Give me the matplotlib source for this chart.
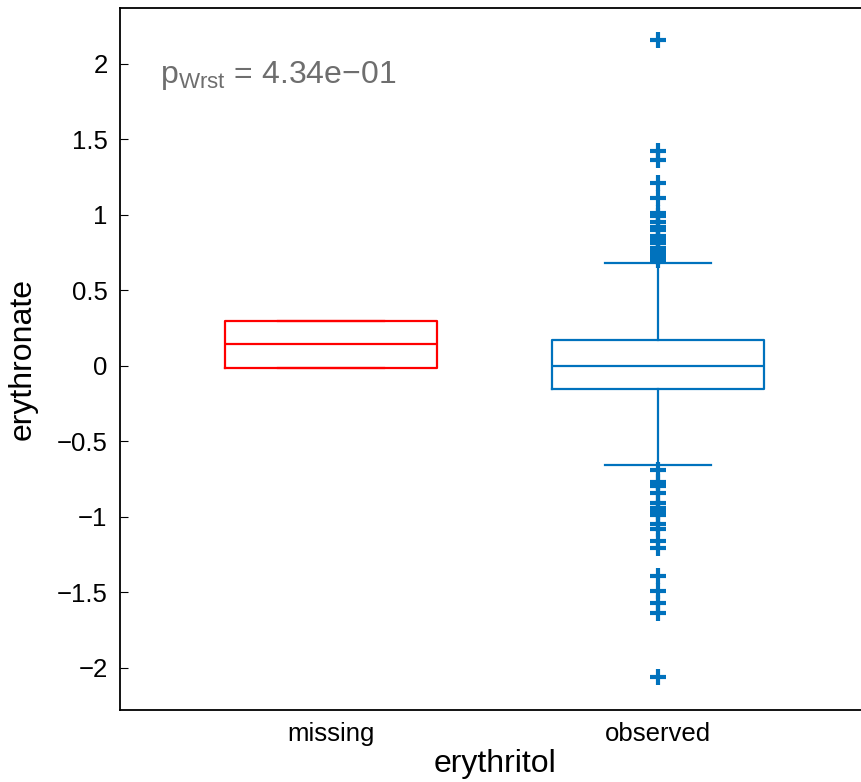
import matplotlib
matplotlib.use("Agg")
import matplotlib.pyplot as plt

plt.rcParams['font.family'] = ['Liberation Sans', 'DejaVu Sans']
plt.rcParams['mathtext.fontset'] = 'custom'
plt.rcParams['mathtext.rm'] = 'Liberation Sans'

categories = ['missing', 'observed']
colors = ['#ff0000', '#0072bd']

# box statistics
q1 = [-0.013, -0.152]
med = [0.146, 0.0]
q3 = [0.298, 0.172]
whislo = [-0.013, -0.656]
whishi = [0.298, 0.682]

outliers_missing = []
outliers_observed = [2.16, 1.42, 1.36, 1.21, 1.11, 1.01, 0.99, 0.95, 0.92, 0.9,
                     0.86, 0.84, 0.81, 0.78, 0.77, 0.74, 0.72, 0.70,
                     -0.69, -0.77, -0.795, -0.84, -0.91, -0.94, -0.97, -0.99,
                     -1.05, -1.08, -1.16, -1.21,
                     -1.39, -1.49, -1.57, -1.64, -2.06]
outliers = [outliers_missing, outliers_observed]

p_text = '4.34e\u221201'

fig = plt.figure(figsize=(8.61, 7.82), dpi=100)
ax = fig.add_axes([0.1394, 0.0921, 0.87, 0.8977])

for i in range(2):
    st = [{'q1': q1[i], 'med': med[i], 'q3': q3[i], 'whislo': whislo[i],
           'whishi': whishi[i], 'fliers': outliers[i], 'label': categories[i]}]
    c = colors[i]
    ax.bxp(st, positions=[i + 1], widths=0.648, showfliers=True,
           boxprops=dict(color=c, lw=1.6),
           medianprops=dict(color=c, lw=1.6),
           whiskerprops=dict(color=c, lw=1.6, ls='-'),
           capprops=dict(color=c, lw=1.6),
           capwidths=0.324,
           flierprops=dict(marker='+', markeredgecolor=c, markersize=12,
                           markeredgewidth=3, linestyle='none'))

ax.set_xlim(0.355, 2.645)
ax.set_ylim(-2.28, 2.37)
ax.set_xticks([1, 2])
ax.set_xticklabels(categories)
ax.set_yticks([-2, -1.5, -1, -0.5, 0, 0.5, 1, 1.5, 2])
ax.set_yticklabels(['\u22122', '\u22121.5', '\u22121', '\u22120.5', '0', '0.5', '1', '1.5', '2'])
ax.tick_params(axis='y', direction='in', length=6, labelsize=18.5, pad=9)
ax.tick_params(axis='x', direction='in', length=0, labelsize=18.5, pad=9)
for s in ax.spines.values():
    s.set_linewidth(1.3)

ax.set_xlabel('erythritol', fontsize=23, labelpad=2)
ax.set_ylabel('erythronate', fontsize=23, labelpad=14)

ax.text(0.053, 0.893, r'$\mathregular{p_{Wrst}}$ = ' + p_text, transform=ax.transAxes,
        fontsize=23, color='#6e6e6e', va='baseline', ha='left')

fig.savefig('out.png', dpi=100)
